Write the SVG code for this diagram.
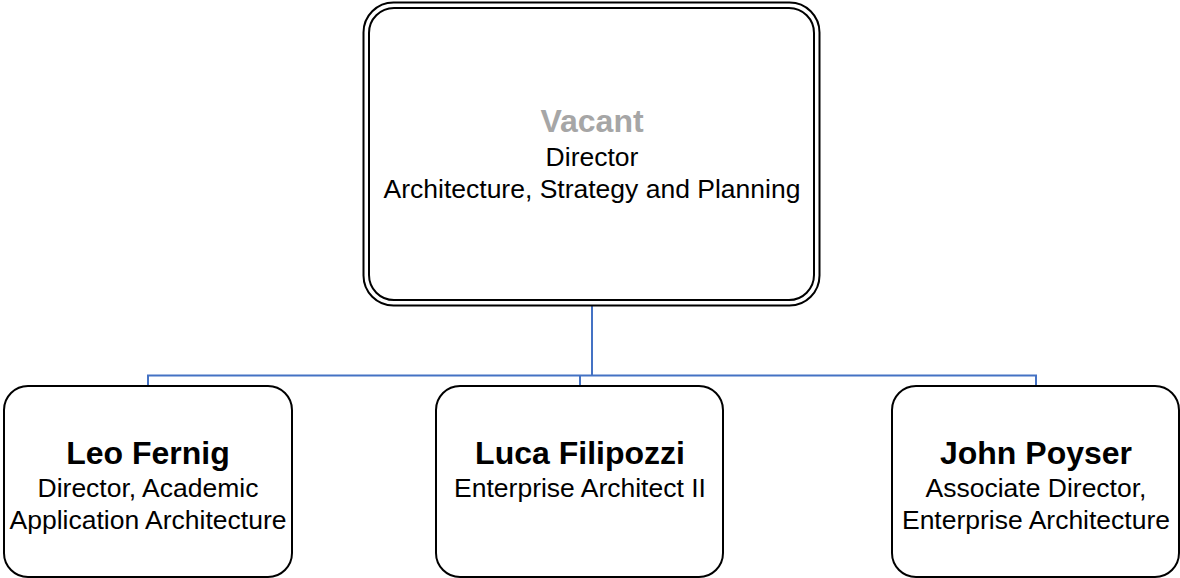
<svg xmlns="http://www.w3.org/2000/svg" width="1180" height="578" viewBox="0 0 1180 578">
<style>
.box{fill:#fff;stroke:#000;stroke-width:2}
.conn{fill:none;stroke:#4472C4;stroke-width:2}
text{font-family:"Liberation Sans",Arial,sans-serif;text-anchor:middle}
.name{font-size:32px;font-weight:bold;fill:#000}
.vac{font-size:32px;font-weight:bold;fill:#A6A6A6}
.role{font-size:26.5px;fill:#000}
</style>
<rect width="1180" height="578" fill="#fff"/>
<g id="connectors">
<path class="conn" d="M592 306 V375.5 M148 386 V375.5 H1036 V386 M580 375.5 V386"/>
</g>
<g id="node-director">
<rect x="363.5" y="2.5" width="456" height="303" rx="30" class="box" stroke-width="2.5"/>
<rect x="369" y="8" width="445" height="292" rx="25" class="box"/>
<text x="592" y="132" class="vac">Vacant</text>
<text x="592" y="166" class="role">Director</text>
<text x="592" y="198" class="role">Architecture, Strategy and Planning</text>
</g>
<g id="node-leo">
<rect x="4" y="386" width="288" height="191" rx="24" class="box"/>
<text x="148" y="464" class="name">Leo Fernig</text>
<text x="148" y="497" class="role">Director, Academic</text>
<text x="148" y="529" class="role">Application Architecture</text>
</g>
<g id="node-luca">
<rect x="436" y="386" width="287" height="191" rx="24" class="box"/>
<text x="580" y="464" class="name">Luca Filipozzi</text>
<text x="580" y="497" class="role">Enterprise Architect II</text>
</g>
<g id="node-john">
<rect x="892" y="386" width="287" height="191" rx="24" class="box"/>
<text x="1036" y="464" class="name">John Poyser</text>
<text x="1036" y="497" class="role">Associate Director,</text>
<text x="1036" y="529" class="role">Enterprise Architecture</text>
</g>
</svg>
